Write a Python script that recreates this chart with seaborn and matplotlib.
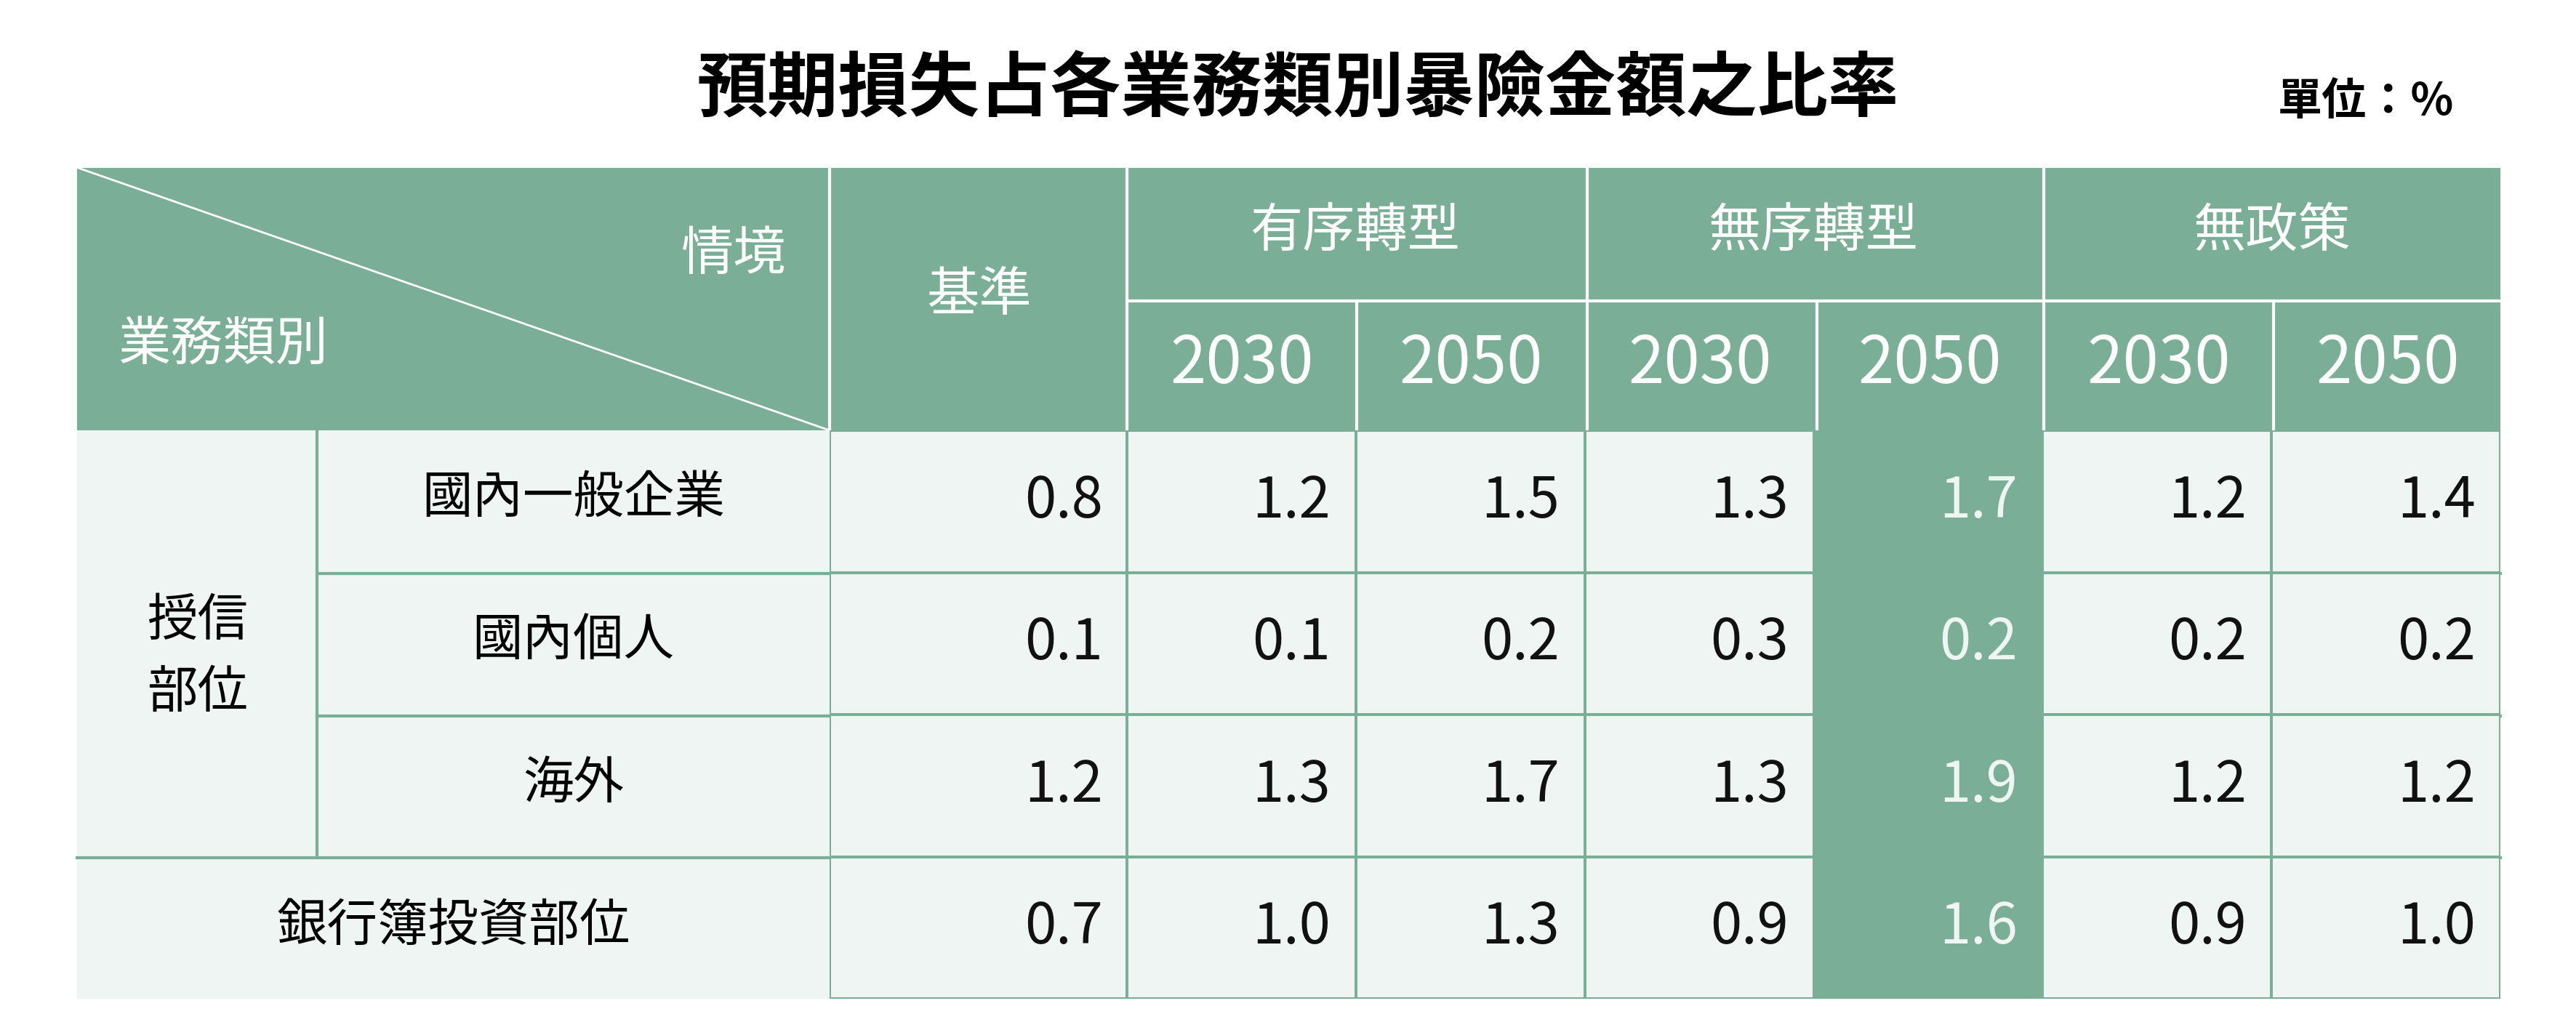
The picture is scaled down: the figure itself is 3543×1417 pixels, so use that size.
import matplotlib
matplotlib.use("Agg")
import matplotlib.pyplot as plt
import seaborn as sns
import numpy as np
import pandas as pd
from matplotlib.colors import ListedColormap
from matplotlib.patches import Rectangle

plt.rcParams["font.family"] = ["Noto Sans CJK JP", "Noto Sans CJK TC", "Noto Sans CJK SC", "DejaVu Sans"]

title = "預期損失占各業務類別暴險金額之比率"
unit = "單位：%"
rows = ["國內一般企業", "國內個人", "海外", "銀行簿投資部位"]
scenarios = ["有序轉型", "無序轉型", "無政策"]
years = ["2030", "2050"]
base = [0.8, 0.1, 1.2, 0.7]
orderly_2030 = [1.2, 0.1, 1.3, 1.0]
orderly_2050 = [1.5, 0.2, 1.7, 1.3]
disorderly_2030 = [1.3, 0.3, 1.3, 0.9]
disorderly_2050 = [1.7, 0.2, 1.9, 1.6]
nopolicy_2030 = [1.2, 0.2, 1.2, 0.9]
nopolicy_2050 = [1.4, 0.2, 1.2, 1.0]

GREEN = "#7aae96"
LIGHT = "#eef5f2"
W, H = 1568, 627
fig = plt.figure(figsize=(35.43, 14.17), dpi=100)
bg = fig.add_axes([0, 0, 1, 1])
bg.set_xlim(0, W); bg.set_ylim(H, 0); bg.axis("off")

def rect(x0, y0, x1, y1, c):
    bg.add_patch(Rectangle((x0, y0), x1 - x0, y1 - y0, facecolor=c, edgecolor="none"))

rect(47, 102, 1522, 262, GREEN)
rect(47, 262, 505, 608, LIGHT)
lw = 3
for x in [505, 686, 826, 966, 1106, 1244, 1384]:
    y0 = 102 if x in (505, 686, 966, 1244) else 183
    bg.plot([x, x], [y0, 262], color="white", lw=lw)
bg.plot([686, 1522], [183, 183], color="white", lw=lw)
bg.plot([47, 505], [102, 262], color="white", lw=2)
hf = 52
bg.text(478, 155, "情境", color="white", fontsize=hf, ha="right", va="center")
bg.text(72, 210, "業務類別", color="white", fontsize=hf, ha="left", va="center")
bg.text(596, 180, "基準", color="white", fontsize=hf, ha="center", va="center")
for i, s in enumerate(scenarios):
    bg.text(686 + 279 * i + 139, 141, s, color="white", fontsize=hf, ha="center", va="center")
    for j, yv in enumerate(years):
        bg.text(686 + 279 * i + 139.5 * j + 70, 222, yv, color="white", fontsize=64, ha="center", va="center")
bg.text(790, 55, title, fontsize=70, fontweight="bold", ha="center", va="center")
bg.text(1440, 62, unit, fontsize=44, fontweight="bold", ha="center", va="center")
bg.text(120, 400, "授信\n部位", fontsize=50, ha="center", va="center", linespacing=1.5)
for lab, yc, xc in zip(rows, [303, 390, 477, 564], [349, 349, 349, 276]):
    bg.text(xc, yc, lab, fontsize=50, ha="center", va="center")
bg.plot([193, 193], [262, 522], color=GREEN, lw=lw)
for y in [349, 436]:
    bg.plot([193, 1522], [y, y], color=GREEN, lw=lw)
bg.plot([47, 1522], [522, 522], color=GREEN, lw=lw)

def fax(x0, y0, x1, y1):
    return fig.add_axes([x0 / W, 1 - y1 / H, (x1 - x0) / W, (y1 - y0) / H])

cmap = ListedColormap([LIGHT, GREEN])
nf = 56
ax1 = fax(505, 262, 686, 608)
df1 = pd.DataFrame({"基準": base}, index=rows)
sns.heatmap(np.zeros((4, 1)), ax=ax1, cmap=cmap, vmin=0, vmax=1, cbar=False,
            linewidths=1.5, linecolor=GREEN, xticklabels=False, yticklabels=False)
for i, v in enumerate(df1["基準"]):
    ax1.text(0.92, i + 0.5, f"{v:.1f}", fontsize=nf, ha="right", va="center", color="#111111")

ax2 = fax(686, 262, 1522, 608)
df2 = pd.DataFrame(np.column_stack([orderly_2030, orderly_2050, disorderly_2030,
                                    disorderly_2050, nopolicy_2030, nopolicy_2050]), index=rows)
hl = np.zeros((4, 6)); hl[:, 3] = 1
sns.heatmap(hl, ax=ax2, cmap=cmap, vmin=0, vmax=1, cbar=False,
            linewidths=1.5, linecolor=GREEN, xticklabels=False, yticklabels=False)
for i in range(4):
    for j in range(6):
        ax2.text(j + 0.89, i + 0.5, f"{df2.iloc[i, j]:.1f}", fontsize=nf, ha="right", va="center",
                 color="#eef5f2" if hl[i, j] else "#111111")
for a in (ax1, ax2):
    for sp in a.spines.values():
        sp.set_visible(False)
fig.savefig("out.png", dpi=100, facecolor="white")
